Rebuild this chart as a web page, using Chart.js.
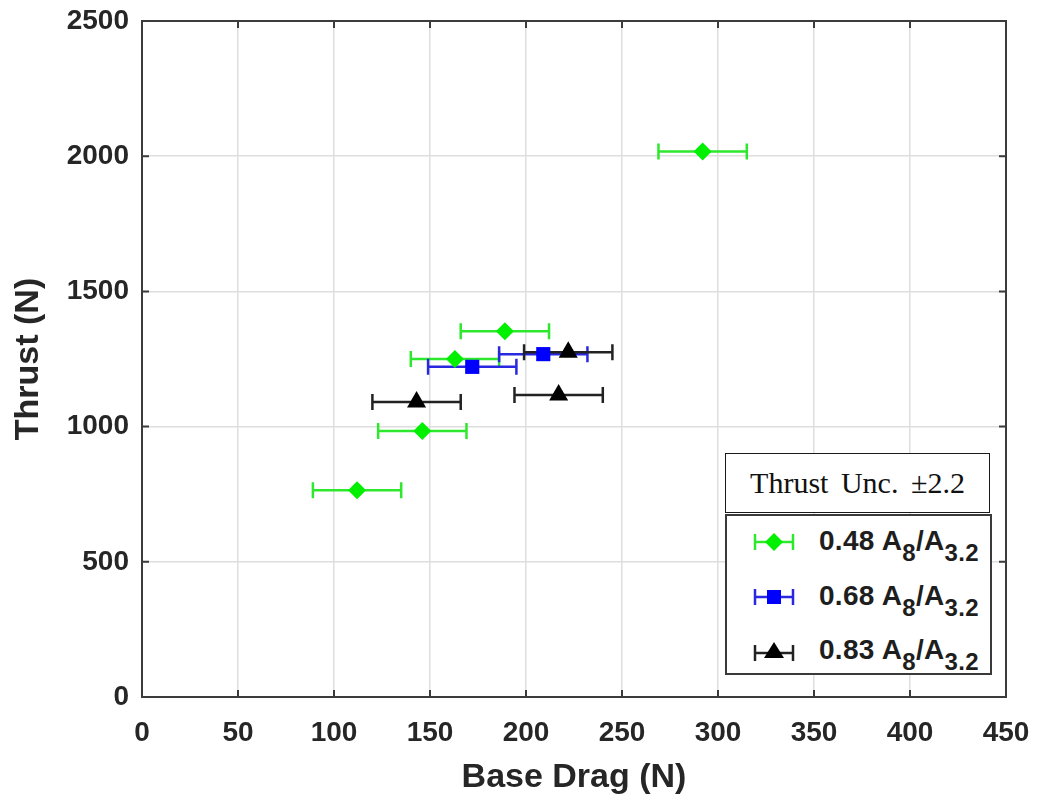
<!DOCTYPE html>
<html>
<head>
<meta charset="utf-8">
<script src="https://cdn.jsdelivr.net/npm/chart.js@4"></script>
<style>
  body { margin: 0; background: #fff; }
  #wrap { position: relative; width: 1041px; height: 803px; }
  .unc {
    position: absolute; left: 725px; top: 453px; width: 263px; height: 58px;
    border: 1.5px solid #1a1a1a; background: #fff;
    font-family: 'Liberation Serif', 'Times New Roman', serif; font-size: 30px;
    color: #111; text-align: center; line-height: 58px; word-spacing: 5px;
  }
  .legend {
    position: absolute; left: 725px; top: 514px; width: 263px; height: 157px;
    border: 2px solid #3a3a3a; background: #fff;
    font-family: 'Liberation Sans', Arial, sans-serif; font-weight: bold; font-size: 28px; color: #1e1e1e;
  }
  .row { position: absolute; left: 0; height: 40px; width: 100%; }
  .row svg { position: absolute; left: 25px; top: 8px; }
  .row span { position: absolute; left: 92px; top: 5px; white-space: nowrap; line-height: 28px; letter-spacing: 0.3px; }
  .row sub { font-size: 24px; vertical-align: -11px; line-height: 0; }
</style>
</head>
<body>
<div id="wrap">
  <canvas id="dragChart"></canvas>
  <div class="unc">Thrust Unc. ±2.2</div>
  <div class="legend">
    <div class="row" style="top:6px">
      <svg width="44" height="24" viewBox="0 0 44 24">
        <line x1="3" y1="12" x2="41" y2="12" stroke="#2ee82e" stroke-width="2.5"/>
        <line x1="3" y1="4" x2="3" y2="20" stroke="#2ee82e" stroke-width="2.5"/>
        <line x1="41" y1="4" x2="41" y2="20" stroke="#2ee82e" stroke-width="2.5"/>
        <polygon points="13,12 22,3 31,12 22,21" fill="#00f000"/>
      </svg>
      <span>0.48 A<sub>8</sub>/A<sub>3.2</sub></span>
    </div>
    <div class="row" style="top:61px">
      <svg width="44" height="24" viewBox="0 0 44 24">
        <line x1="3" y1="12" x2="41" y2="12" stroke="#2828e0" stroke-width="2.5"/>
        <line x1="3" y1="4" x2="3" y2="20" stroke="#2828e0" stroke-width="2.5"/>
        <line x1="41" y1="4" x2="41" y2="20" stroke="#2828e0" stroke-width="2.5"/>
        <rect x="15" y="5" width="14" height="14" fill="#0000ff"/>
      </svg>
      <span>0.68 A<sub>8</sub>/A<sub>3.2</sub></span>
    </div>
    <div class="row" style="top:115px">
      <svg width="44" height="24" viewBox="0 0 44 24">
        <line x1="3" y1="14" x2="41" y2="14" stroke="#222" stroke-width="2.5"/>
        <line x1="3" y1="6" x2="3" y2="22" stroke="#222" stroke-width="2.5"/>
        <line x1="41" y1="6" x2="41" y2="22" stroke="#222" stroke-width="2.5"/>
        <polygon points="22,3 32,19 12,19" fill="#000"/>
      </svg>
      <span>0.83 A<sub>8</sub>/A<sub>3.2</sub></span>
    </div>
  </div>
</div>
<script>
// Dados (Base Drag em N, Thrust em N)
const seriesNames = ['0.48 A8/A3.2', '0.68 A8/A3.2', '0.83 A8/A3.2'];

const greenDrag   = [112, 146, 163, 189, 292];
const greenThrust = [765, 984, 1250, 1353, 2017];
const greenErr    = [23, 23, 23, 23, 23];

const blueDrag   = [172, 209];
const blueThrust = [1221, 1268];
const blueErr    = [23, 23];

const blackDrag   = [143, 217, 222];
const blackThrust = [1091, 1117, 1275];
const blackErr    = [23, 23, 23];

const xTicks = [0, 50, 100, 150, 200, 250, 300, 350, 400, 450];
const yTicks = [0, 500, 1000, 1500, 2000, 2500];

function toPoints(xs, ys) {
    return xs.map((x, i) => ({ x: x, y: ys[i] }));
}

// barras de erro horizontais (desenhadas antes dos marcadores)
const errorBars = {
    id: 'errorBars',
    beforeDatasetsDraw(chart) {
        const ctx = chart.ctx;
        const xs = chart.scales.x, ys = chart.scales.y;
        chart.data.datasets.forEach(ds => {
            ctx.save();
            ctx.strokeStyle = ds.errColor;
            ctx.lineWidth = 2.5;
            ds.data.forEach((p, i) => {
                const e = ds.xErr[i];
                const x0 = xs.getPixelForValue(p.x - e);
                const x1 = xs.getPixelForValue(p.x + e);
                const y = ys.getPixelForValue(p.y);
                ctx.beginPath();
                ctx.moveTo(x0, y); ctx.lineTo(x1, y);
                ctx.moveTo(x0, y - 8); ctx.lineTo(x0, y + 8);
                ctx.moveTo(x1, y - 8); ctx.lineTo(x1, y + 8);
                ctx.stroke();
            });
            ctx.restore();
        });
    }
};

// caixa do eixo com marcas internas (estilo MATLAB)
const axisBox = {
    id: 'axisBox',
    beforeDatasetsDraw(chart) {
        const ctx = chart.ctx;
        const a = chart.chartArea;
        const xs = chart.scales.x, ys = chart.scales.y;
        ctx.save();
        ctx.strokeStyle = '#3c3c3c';
        ctx.lineWidth = 2;
        ctx.beginPath();
        xTicks.forEach(v => {
            const px = xs.getPixelForValue(v);
            ctx.moveTo(px, a.bottom); ctx.lineTo(px, a.bottom - 7);
            ctx.moveTo(px, a.top); ctx.lineTo(px, a.top + 7);
        });
        yTicks.forEach(v => {
            const py = ys.getPixelForValue(v);
            ctx.moveTo(a.left, py); ctx.lineTo(a.left + 7, py);
            ctx.moveTo(a.right, py); ctx.lineTo(a.right - 7, py);
        });
        ctx.stroke();
        ctx.strokeRect(a.left, a.top, a.right - a.left, a.bottom - a.top);
        ctx.restore();
    }
};

const tickFont = { family: "'Liberation Sans', Arial, sans-serif", size: 28, weight: 'bold' };
const titleFont = { family: "'Liberation Sans', Arial, sans-serif", size: 34, weight: 'bold' };

new Chart(document.getElementById('dragChart'), {
    type: 'scatter',
    data: {
        datasets: [
            {
                label: seriesNames[0],
                data: toPoints(greenDrag, greenThrust),
                xErr: greenErr,
                errColor: '#2ee82e',
                pointStyle: 'rectRot',
                pointRadius: 9,
                pointHoverRadius: 9,
                backgroundColor: '#00f000',
                borderColor: '#00f000',
                borderWidth: 0
            },
            {
                label: seriesNames[1],
                data: toPoints(blueDrag, blueThrust),
                xErr: blueErr,
                errColor: '#2828e0',
                pointStyle: 'rect',
                pointRadius: 10,
                pointHoverRadius: 10,
                backgroundColor: '#0000ff',
                borderColor: '#0000ff',
                borderWidth: 0
            },
            {
                label: seriesNames[2],
                data: toPoints(blackDrag, blackThrust),
                xErr: blackErr,
                errColor: '#222222',
                pointStyle: 'triangle',
                pointRadius: 11,
                pointHoverRadius: 11,
                backgroundColor: '#000000',
                borderColor: '#000000',
                borderWidth: 0
            }
        ]
    },
    options: {
        responsive: true,
        maintainAspectRatio: false,
        animation: false,
        layout: { padding: { top: 21, right: 35, left: 0, bottom: 0 } },
        plugins: {
            legend: { display: false },
            tooltip: { enabled: false }
        },
        scales: {
            x: {
                type: 'linear',
                min: 0,
                max: 450,
                afterFit: s => { s.height = 106; s.paddingLeft = 0; s.paddingRight = 0; },
                afterBuildTicks: s => { s.ticks = xTicks.map(v => ({ value: v })); },
                ticks: { font: tickFont, color: '#262626', padding: 19, maxRotation: 0, callback: v => String(v) },
                grid: { color: '#dedede', lineWidth: 1.5, drawTicks: false },
                border: { display: false },
                title: { display: true, text: 'Base Drag (N)', font: titleFont, color: '#262626', padding: { top: 0, bottom: 5 } }
            },
            y: {
                type: 'linear',
                min: 0,
                max: 2500,
                afterFit: s => { s.width = 142; s.paddingTop = 0; s.paddingBottom = 0; },
                afterBuildTicks: s => { s.ticks = yTicks.map(v => ({ value: v })); },
                ticks: { font: tickFont, color: '#262626', padding: 13, callback: v => String(v) },
                grid: { color: '#dedede', lineWidth: 1.5, drawTicks: false },
                border: { display: false },
                title: { display: true, text: 'Thrust (N)', font: titleFont, color: '#262626', padding: { top: 8, bottom: 0 } }
            }
        }
    },
    plugins: [errorBars, axisBox]
});
</script>
</body>
</html>
